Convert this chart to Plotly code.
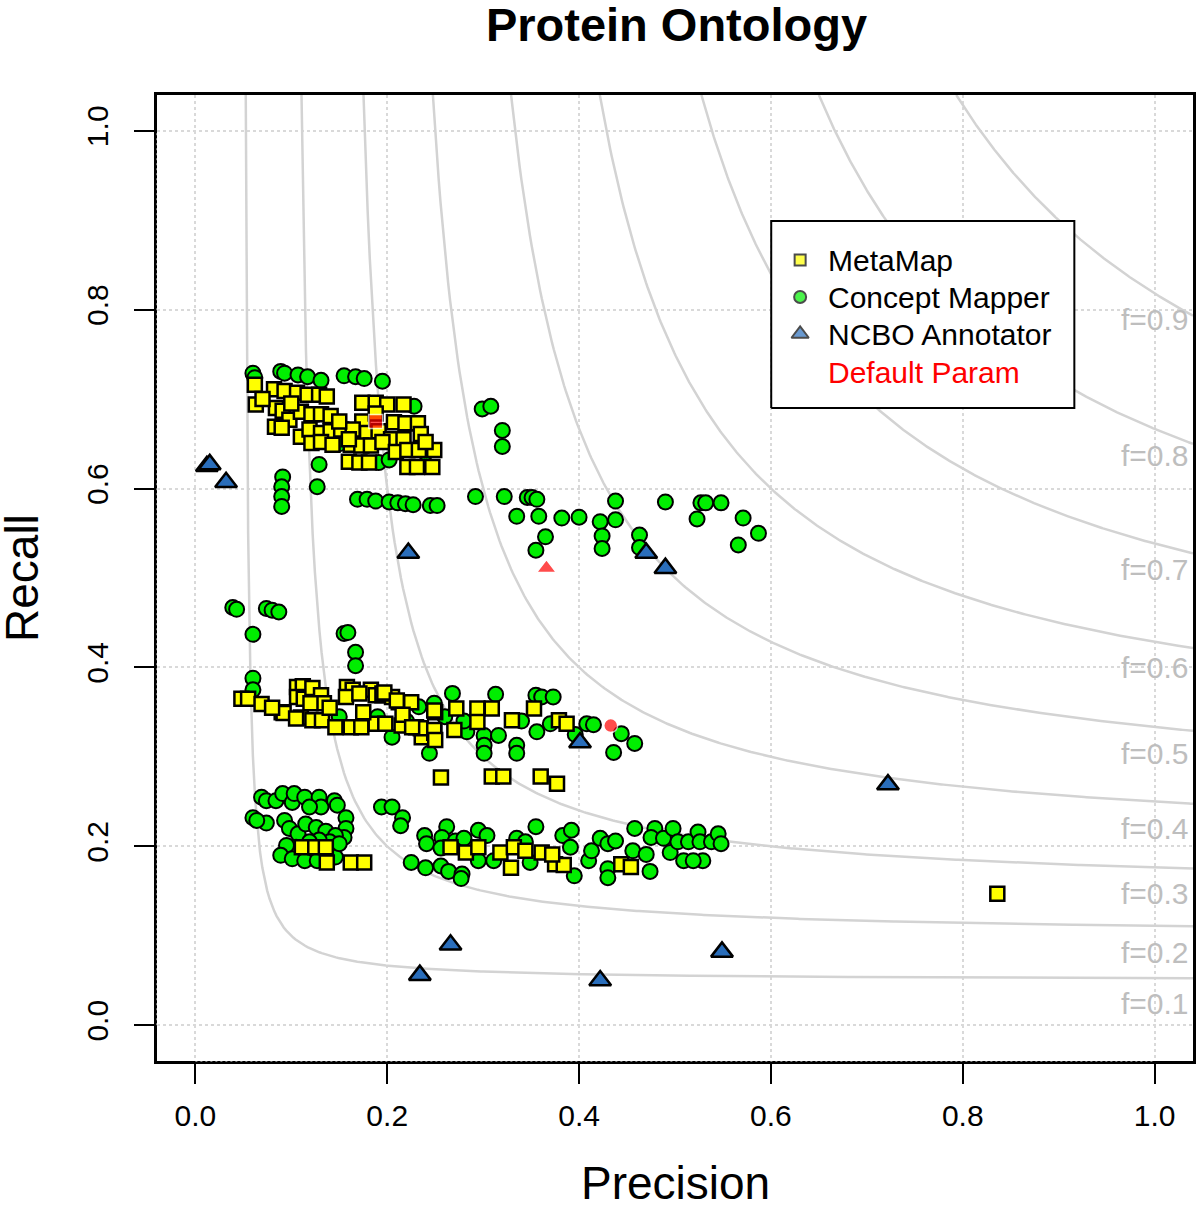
import numpy as np
import plotly.graph_objects as go

# ---------------- data (precision, recall) ----------------
metamap_p = [0.062,0.082,0.093,0.106,0.117,0.129,0.137,
             0.063,0.084,0.091,0.098,0.110,0.121,0.131,0.141,
             0.174,0.188,0.200,0.217,
             0.174,0.207,0.219,0.232,
             0.083,0.090,0.110,0.119,0.131,0.141,0.152,0.164,0.179,0.191,0.204,0.217,0.235,
             0.121,0.131,0.143,0.162,0.173,0.183,0.195,0.209,0.221,0.233,0.249,
             0.160,0.171,0.181,0.221,0.231,0.247,
             0.070,0.100,0.150,0.160,0.188,0.240,
             0.048,0.055,0.069,0.090,0.092,0.106,0.112,0.106,0.113,0.122,0.131,0.134,0.110,0.105,
             0.122,0.132,0.146,0.158,0.164,0.157,0.162,0.173,0.183,0.188,0.198,0.195,0.205,0.212,
             0.225,0.215,0.230,0.236,0.250,0.249,0.171,0.188,0.195,0.216,0.235,0.249,0.249,0.250,
             0.272,0.270,0.197,0.210,0.226,0.294,0.309,0.294,0.330,0.353,0.379,0.387,0.140,0.175,
             0.120,0.080,
             0.256,0.309,0.321,0.360,0.377,
             0.111,0.125,0.136,0.137,0.162,0.176,0.266,0.282,0.295,0.318,0.332,0.344,0.361,0.329,
             0.375,0.384,0.444,0.454,0.372,
             0.836]
metamap_r = [0.716,0.711,0.709,0.707,0.705,0.705,0.703,
             0.694,0.690,0.687,0.677,0.686,0.683,0.683,0.681,
             0.696,0.696,0.694,0.694,
             0.675,0.674,0.673,0.673,
             0.669,0.668,0.658,0.666,0.662,0.664,0.666,0.666,0.662,0.664,0.655,0.655,0.661,
             0.651,0.652,0.649,0.649,0.648,0.648,0.652,0.641,0.643,0.643,0.643,
             0.630,0.629,0.629,0.624,0.624,0.624,
             0.700,0.695,0.675,0.655,0.684,0.652,
             0.365,0.365,0.359,0.350,0.349,0.378,0.379,0.367,0.365,0.377,0.369,0.360,0.344,0.343,
             0.341,0.341,0.333,0.378,0.375,0.367,0.333,0.333,0.375,0.337,0.337,0.369,0.367,0.361,
             0.361,0.335,0.333,0.322,0.350,0.327,0.371,0.369,0.371,0.347,0.332,0.352,0.330,0.319,
             0.354,0.330,0.372,0.363,0.333,0.354,0.354,0.339,0.341,0.354,0.341,0.337,0.355,0.350,
             0.360,0.355,
             0.277,0.278,0.278,0.278,0.270,
             0.199,0.199,0.199,0.182,0.182,0.182,0.199,0.193,0.199,0.193,0.199,0.195,0.193,0.176,
             0.180,0.179,0.180,0.177,0.191,
             0.147]

cm_p = [0.060,0.062,0.089,0.093,0.107,0.117,0.131,0.155,0.167,0.176,0.195,0.228,0.191,0.202,
        0.129,0.127,0.091,0.090,0.090,0.090,0.240,0.150,
        0.169,0.179,0.188,0.202,0.211,0.219,0.227,0.245,0.252,
        0.292,0.322,0.346,0.351,0.356,
        0.335,0.358,0.382,0.400,0.422,0.438,
        0.438,0.490,0.527,0.532,0.548,0.523,0.571,0.587,0.566,
        0.365,0.355,0.424,0.424,0.463,0.463,
        0.299,0.308,0.320,0.320,
        0.039,0.043,0.074,0.080,0.087,0.060,0.155,0.159,0.167,0.167,0.060,0.060,
        0.268,0.313,0.355,0.361,0.373,0.233,0.249,0.283,0.301,0.316,0.356,0.370,0.396,0.408,
        0.415,0.444,0.458,0.436,0.244,0.301,0.301,0.335,0.335,0.205,0.150,0.190,0.220,0.260,
        0.280,0.340,
        0.060,0.069,0.074,0.084,0.091,0.101,0.103,0.114,0.129,0.131,0.145,0.148,0.157,0.157,
        0.155,0.119,0.074,0.064,0.093,0.098,0.107,0.115,0.126,0.136,0.146,0.140,0.129,0.119,
        0.105,0.095,0.089,0.101,0.114,0.127,0.146,0.150,
        0.194,0.205,0.216,0.214,0.239,0.241,0.225,0.240,0.256,0.264,0.278,0.277,0.262,0.257,
        0.256,0.271,0.280,0.295,0.304,0.295,0.311,0.335,0.344,0.355,0.349,0.383,0.392,0.391,
        0.395,0.410,0.413,0.422,0.430,0.438,0.430,0.430,0.458,0.456,0.470,0.474,0.479,0.475,
        0.488,0.495,0.498,0.503,0.509,0.514,0.524,0.526,0.529,0.538,0.545,0.548,0.519]
cm_r = [0.729,0.724,0.731,0.729,0.727,0.725,0.721,0.726,0.725,0.723,0.720,0.692,0.629,0.632,
        0.627,0.602,0.613,0.602,0.591,0.580,0.640,0.650,
        0.588,0.588,0.586,0.585,0.584,0.583,0.582,0.581,0.581,
        0.591,0.591,0.590,0.590,0.588,
        0.569,0.569,0.567,0.568,0.563,0.565,
        0.586,0.585,0.584,0.584,0.584,0.566,0.567,0.550,0.537,
        0.546,0.531,0.547,0.533,0.548,0.534,
        0.689,0.692,0.665,0.647,
        0.467,0.465,0.466,0.464,0.462,0.437,0.438,0.439,0.417,0.402,0.388,0.375,
        0.371,0.370,0.369,0.367,0.367,0.356,0.360,0.328,0.324,0.324,0.328,0.337,0.325,0.337,
        0.336,0.326,0.315,0.305,0.304,0.313,0.304,0.313,0.304,0.322,0.345,0.345,0.340,0.345,
        0.340,0.340,
        0.232,0.255,0.251,0.251,0.259,0.249,0.259,0.255,0.255,0.244,0.251,0.246,0.232,0.220,
        0.210,0.244,0.226,0.229,0.229,0.220,0.214,0.225,0.221,0.217,0.212,0.205,0.207,0.205,
        0.199,0.201,0.190,0.186,0.184,0.184,0.188,0.203,
        0.244,0.244,0.232,0.223,0.212,0.203,0.182,0.176,0.178,0.172,0.169,0.164,0.222,0.210,
        0.198,0.206,0.209,0.218,0.212,0.184,0.184,0.209,0.205,0.222,0.182,0.212,0.218,0.199,
        0.167,0.184,0.195,0.209,0.203,0.206,0.175,0.165,0.220,0.195,0.191,0.172,0.220,0.210,
        0.209,0.193,0.220,0.205,0.184,0.205,0.216,0.205,0.184,0.205,0.214,0.203,0.184]

ncbo_p = [0.012,0.015,0.032,0.222,0.470,0.490,0.401,0.722,0.234,0.266,0.422,0.549]
ncbo_r = [0.625,0.627,0.607,0.528,0.528,0.511,0.316,0.269,0.056,0.090,0.050,0.082]

default_p = [0.188, 0.433, 0.366]
default_r = [0.675, 0.335, 0.511]
default_symbols = ["square", "circle", "triangle-up"]

f_values = [0.1, 0.2, 0.3, 0.4, 0.5, 0.6, 0.7, 0.8, 0.9]
f_label_y = [0.024, 0.081, 0.147, 0.220, 0.304, 0.400, 0.510, 0.637, 0.789]

tick_vals = [0.0, 0.2, 0.4, 0.6, 0.8, 1.0]
tick_text = ["0.0", "0.2", "0.4", "0.6", "0.8", "1.0"]

legend_names = ["MetaMap", "Concept Mapper", "NCBO Annotator", "Default Param"]
legend_colors = ["#ffff00", "#00ee00", "#2a6ebb", None]
legend_symbols = ["square", "circle", "triangle-up", None]
legend_text_colors = ["black", "black", "black", "#ff0000"]

AX_MIN, AX_MAX = -0.04, 1.04
FONT = "Liberation Sans, Arial, sans-serif"

# plot-area geometry in pixels (for legend placement in paper units)
PL, PR, PT, PB = 157, 1196, 95, 1061
def px_x(px):
    return (px - PL) / (PR - PL)
def px_y(py):
    return (PB - py) / (PB - PT)

fig = go.Figure()

# iso-F curves
for f in f_values:
    pmin = f * AX_MAX / (2 * AX_MAX - f)
    p = np.linspace(pmin, AX_MAX, 400)
    r = f * p / (2 * p - f)
    fig.add_trace(go.Scatter(x=p, y=r, mode="lines", line=dict(color="#d3d3d3", width=2.5),
                             hoverinfo="skip", showlegend=False))

fig.add_trace(go.Scatter(x=cm_p, y=cm_r, mode="markers", name="Concept Mapper", showlegend=False,
                         marker=dict(symbol="circle", size=15, color="#00ee00",
                                     line=dict(color="black", width=2))))
fig.add_trace(go.Scatter(x=metamap_p, y=metamap_r, mode="markers", name="MetaMap", showlegend=False,
                         marker=dict(symbol="square", size=14, color="#ffff00",
                                     line=dict(color="black", width=2.5))))
fig.add_trace(go.Scatter(x=ncbo_p, y=ncbo_r, mode="markers", name="NCBO Annotator", showlegend=False,
                         marker=dict(symbol="triangle-up", size=19, color="#2a6ebb",
                                     line=dict(color="black", width=2.5))))
fig.add_trace(go.Scatter(x=default_p, y=default_r, mode="markers", showlegend=False,
                         marker=dict(symbol=default_symbols, size=[14, 14, 17], color="#ff0000",
                                     line=dict(color="white", width=1.5))))

# custom legend: white box + markers on an overlay axis in paper units, labels as annotations
bx0, bx1, by0, by1 = px_x(773), px_x(1077), px_y(408), px_y(221)
fig.add_trace(go.Scatter(x=[bx0, bx1, bx1, bx0, bx0], y=[by0, by0, by1, by1, by0],
                         xaxis="x2", yaxis="y2", mode="lines", fill="toself",
                         fillcolor="white", line=dict(color="black", width=2),
                         showlegend=False, hoverinfo="skip"))
legend_row_px = [260, 297, 334, 372]
leg_x, leg_y, leg_sym, leg_col = [], [], [], []
for name, col, sym, ry in zip(legend_names, legend_colors, legend_symbols, legend_row_px):
    if sym is not None:
        leg_x.append(px_x(802))
        leg_y.append(px_y(ry))
        leg_sym.append(sym)
        leg_col.append(col)
fig.add_trace(go.Scatter(x=leg_x, y=leg_y, xaxis="x2", yaxis="y2", mode="markers",
                         showlegend=False, hoverinfo="skip",
                         marker=dict(symbol=leg_sym, size=[11, 12, 15], color=leg_col,
                                     line=dict(color="black", width=2))))

annotations = []
for name, tc, ry in zip(legend_names, legend_text_colors, legend_row_px):
    annotations.append(dict(x=px_x(828), xref="paper", y=px_y(ry), yref="paper", text=name,
                            showarrow=False, xanchor="left", yanchor="middle",
                            font=dict(family=FONT, size=30, color=tc)))
for f, ly in zip(f_values, f_label_y):
    annotations.append(dict(x=0.9985, xref="paper", y=ly, yref="y", text=f"f={f:.1f}",
                            showarrow=False, xanchor="right", yanchor="middle",
                            font=dict(family=FONT, size=30, color="#bebebe")))
annotations.append(dict(x=0.5, xref="paper", y=0, yref="paper", yshift=-122, text="Precision",
                        showarrow=False, xanchor="center", yanchor="middle",
                        font=dict(family=FONT, size=46, color="black")))
annotations.append(dict(x=0, xref="paper", y=0.5, yref="paper", xshift=-135, text="Recall",
                        textangle=-90, showarrow=False, xanchor="center", yanchor="middle",
                        font=dict(family=FONT, size=46, color="black")))

shapes = [
    # dotted overlay on the frame
    dict(type="line", xref="paper", yref="y", x0=0, x1=0, y0=0, y1=1,
         line=dict(color="white", width=1, dash="2px,3px"), layer="above"),
    dict(type="line", xref="x", yref="paper", x0=0, x1=1, y0=0, y1=0,
         line=dict(color="white", width=1, dash="2px,3px"), layer="above"),
]

axis_common = dict(range=[AX_MIN, AX_MAX], tickvals=tick_vals, ticktext=tick_text,
                   showgrid=True, gridcolor="#d9d9d9", griddash="dot", gridwidth=1.5,
                   zeroline=False, showline=True, linecolor="black", linewidth=3, mirror=True,
                   ticks="outside", ticklen=20, tickwidth=2, tickcolor="black",
                   tickfont=dict(family=FONT, size=30, color="black"))

fig.update_layout(
    width=1200, height=1205,
    margin=dict(l=PL, r=1200 - PR, t=PT, b=1205 - PB),
    paper_bgcolor="white", plot_bgcolor="white",
    title=dict(text="<b>Protein Ontology</b>", x=676.5 / 1200, xanchor="center",
               y=1 - 25 / 1205, yanchor="middle",
               font=dict(family=FONT, size=47, color="black")),
    xaxis=dict(**axis_common, ticklabelstandoff=6),
    yaxis=dict(**axis_common, tickangle=-90, ticklabelstandoff=14),
    xaxis2=dict(range=[0, 1], overlaying="x", visible=False, fixedrange=True),
    yaxis2=dict(range=[0, 1], overlaying="y", visible=False, fixedrange=True),
    showlegend=False,
    annotations=annotations,
    shapes=shapes,
)

fig.write_html("out.html", config={"displayModeBar": False},
               post_script="document.body.style.margin='0';document.body.style.padding='0';")
